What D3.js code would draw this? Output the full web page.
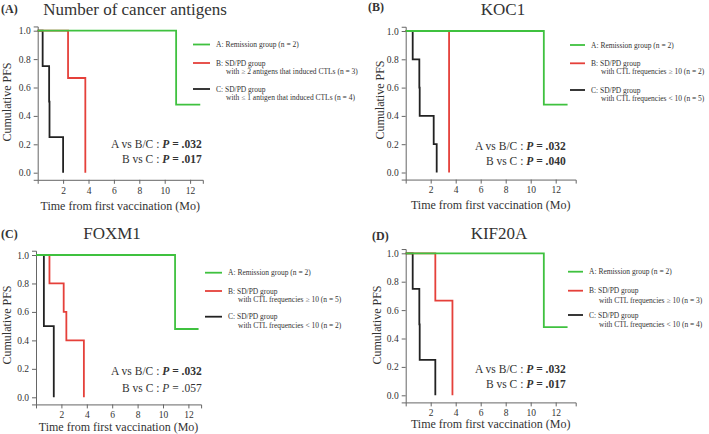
<!DOCTYPE html>
<html><head><meta charset="utf-8">
<script src="https://cdn.jsdelivr.net/npm/d3@7"></script>
<style>
body{margin:0;background:#fff;}
svg{display:block;}
text{font-family:"Liberation Serif","Times New Roman",serif;fill:#333;}
</style></head>
<body>
<svg id="chart" width="709" height="434"></svg>
<script>
// ---------- DATA ----------
const panelLetters = ["(A)", "(B)", "(C)", "(D)"];
const panelTitles = ["Number of cancer antigens", "KOC1", "FOXM1", "KIF20A"];
const xTicks = [2, 4, 6, 8, 10, 12];
const yTicks = [0, 0.2, 0.4, 0.6, 0.8, 1.0];
const xAxisTitle = "Time from first vaccination (Mo)";
const yAxisTitle = "Cumulative PFS";

// Kaplan–Meier step points [time (Mo), cumulative PFS after the step]
const antigensGreen = [[0, 1], [10.9, 0.48], [12.8, 0.48]];
const antigensRed   = [[0, 1], [2.39, 0.667], [3.75, 0]];
const antigensBlack = [[0, 1], [0.39, 0.75], [0.9, 0.5], [0.93, 0.25], [2.0, 0]];

const koc1Green = [[0, 1], [11.05, 0.48], [12.95, 0.48]];
const koc1Red   = [[0, 1], [3.47, 0]];
const koc1Black = [[0, 1], [0.56, 0.8], [1.09, 0.6], [1.12, 0.4], [2.24, 0.2], [2.48, 0]];

const foxm1Green = [[0, 1], [10.95, 0.48], [12.8, 0.48]];
const foxm1Red   = [[0, 1], [1.06, 0.8], [2.18, 0.6], [2.39, 0.4], [3.77, 0]];
const foxm1Black = [[0, 1], [0.62, 0.5], [1.4, 0]];

const kif20aGreen = [[0, 1], [11.05, 0.48], [12.95, 0.48]];
const kif20aRed   = [[0, 1], [2.37, 0.667], [3.74, 0]];
const kif20aBlack = [[0, 1], [0.56, 0.75], [1.09, 0.5], [1.12, 0.25], [2.37, 0]];

const legendA = "A: Remission group (n = 2)";
const legendB1 = "B: SD/PD group";
const legendC1 = "C: SD/PD group";
const legendB2 = ["with \u2265 2 antigens that induced CTLs (n = 3)",
                  "with CTL frequencies \u2265 10 (n = 2)",
                  "with CTL frequencies \u2265 10 (n = 5)",
                  "with CTL frequencies \u2265 10 (n = 3)"];
const legendC2 = ["with \u2264 1 antigen that induced CTLs (n = 4)",
                  "with CTL frequencies < 10 (n = 5)",
                  "with CTL frequencies < 10 (n = 2)",
                  "with CTL frequencies < 10 (n = 4)"];
const pAvsBC = [".032", ".032", ".032", ".032"];
const pBvsC  = [".017", ".040", ".057", ".017"];
const pBvsCBold = [true, true, false, true];

// ---------- LAYOUT ----------
const colors = {green: "#3fc13f", red: "#e5403a", black: "#222222"};
const curves = [
  [antigensBlack, antigensRed, antigensGreen],
  [koc1Black, koc1Red, koc1Green],
  [foxm1Black, foxm1Red, foxm1Green],
  [kif20aBlack, kif20aRed, kif20aGreen]
];
const layout = [
  {x0: 37.7, ux: 12.7, xmax: 13.0, y1: 30.7, y0: 172.7, letter: [1, 13], title: [135, 15], legX: 193, legW: 17, legY: [44.5, 63, 71.5, 89, 97.5], pX: 201.7, pY: [144, 159.3], xtY: 206, ytX: 7, ytY: 102},
  {x0: 405.7, ux: 12.5, xmax: 13.6, y1: 31, y0: 172.5, letter: [368, 11], title: [503, 15], legX: 570, legW: 15, legY: [45, 63.3, 71, 90, 98.5], pX: 565.7, pY: [145.7, 161], xtY: 205, ytX: 380, ytY: 100},
  {x0: 36, ux: 12.7, xmax: 13.0, y1: 255, y0: 397.3, letter: [1, 238], title: [112, 239], legX: 205, legW: 17, legY: [272.7, 291, 299.3, 316.7, 325], pX: 201.7, pY: [370.7, 387.7], xtY: 427, ytX: 7, ytY: 325},
  {x0: 405.7, ux: 12.5, xmax: 13.6, y1: 253.3, y0: 395.3, letter: [372, 240], title: [499, 239], legX: 568, legW: 15, legY: [271.7, 290.7, 300, 315, 324.3], pX: 565.7, pY: [369, 384.3], xtY: 424, ytX: 377, ytY: 325}
];

const svg = d3.select("#chart");

layout.forEach((L, i) => {
  const g = svg.append("g");
  const unitY = L.y0 - L.y1;
  const x = d3.scaleLinear().domain([0, L.xmax]).range([L.x0, L.x0 + L.xmax * L.ux]);
  const y = d3.scaleLinear().domain([-0.05, 1.03]).range([L.y0 + 0.05 * unitY, L.y1 - 0.03 * unitY]);

  // axes
  const xAxis = g.append("g").attr("transform", `translate(0,${y(-0.05)})`)
    .call(d3.axisBottom(x).tickValues(xTicks).tickSize(4).tickPadding(3).tickFormat(d3.format("d")));
  const yAxis = g.append("g").attr("transform", `translate(${x(0)},0)`)
    .call(d3.axisLeft(y).tickValues(yTicks).tickSize(4).tickPadding(3).tickFormat(d3.format(".1f")));
  [xAxis, yAxis].forEach(a => {
    a.selectAll("path,line").attr("stroke", "#666").attr("stroke-width", 1);
    a.selectAll("text").attr("font-family", "Liberation Serif").attr("font-size", 9.5).attr("fill", "#444");
  });

  // curves
  const line = d3.line().x(d => x(d[0])).y(d => y(d[1])).curve(d3.curveStepAfter);
  const cols = [colors.black, colors.red, colors.green];
  curves[i].forEach((c, j) => {
    g.append("path").datum(c).attr("d", line).attr("fill", "none")
      .attr("stroke", cols[j]).attr("stroke-width", 1.8);
  });

  // panel letter & title
  g.append("text").attr("x", L.letter[0]).attr("y", L.letter[1]).text(panelLetters[i])
    .attr("font-family", "Liberation Sans, Arial, sans-serif").attr("font-weight", "bold")
    .attr("font-size", 12).attr("fill", "#111");
  g.append("text").attr("x", L.title[0]).attr("y", L.title[1]).attr("text-anchor", "middle")
    .attr("font-size", 17).attr("fill", "#222").text(panelTitles[i]);

  // axis titles
  g.append("text").attr("x", (x(0) + x(L.xmax)) / 2).attr("y", L.xtY).attr("dy", "0.35em")
    .attr("text-anchor", "middle").attr("font-size", 12).attr("fill", "#333").text(xAxisTitle);
  g.append("text").attr("transform", `translate(${L.ytX},${L.ytY}) rotate(-90)`).attr("dy", "0.35em")
    .attr("text-anchor", "middle").attr("font-size", 12).attr("fill", "#333").text(yAxisTitle);

  // legend
  const legCols = [colors.green, colors.red, colors.black];
  const rows = [L.legY[0], L.legY[1], L.legY[3]];
  const first = [legendA, legendB1, legendC1];
  rows.forEach((ry, k) => {
    g.append("line").attr("x1", L.legX).attr("x2", L.legX + L.legW).attr("y1", ry).attr("y2", ry)
      .attr("stroke", legCols[k]).attr("stroke-width", 1.8);
    g.append("text").attr("x", L.legX + L.legW + 6).attr("y", ry).attr("dy", "0.35em")
      .attr("font-size", 7.5).attr("fill", "#333").text(first[k]);
  });
  g.append("text").attr("x", L.legX + L.legW + 16).attr("y", L.legY[2]).attr("dy", "0.35em")
    .attr("font-size", 7.5).attr("fill", "#333").text(legendB2[i]);
  g.append("text").attr("x", L.legX + L.legW + 16).attr("y", L.legY[4]).attr("dy", "0.35em")
    .attr("font-size", 7.5).attr("fill", "#333").text(legendC2[i]);

  // p-values
  const t1 = g.append("text").attr("x", L.pX).attr("y", L.pY[0]).attr("dy", "0.35em")
    .attr("text-anchor", "end").attr("font-size", 11.5).attr("fill", "#222");
  t1.append("tspan").text("A vs B/C :  ");
  t1.append("tspan").attr("font-style", "italic").attr("font-weight", "bold").text("P");
  t1.append("tspan").attr("font-weight", "bold").text(" = " + pAvsBC[i]);
  const t2 = g.append("text").attr("x", L.pX).attr("y", L.pY[1]).attr("dy", "0.35em")
    .attr("text-anchor", "end").attr("font-size", 11.5).attr("fill", "#222");
  t2.append("tspan").text("B vs C :  ");
  t2.append("tspan").attr("font-style", "italic").attr("font-weight", pBvsCBold[i] ? "bold" : "normal").text("P");
  t2.append("tspan").attr("font-weight", pBvsCBold[i] ? "bold" : "normal").text(" = " + pBvsC[i]);
});
</script>
</body></html>
